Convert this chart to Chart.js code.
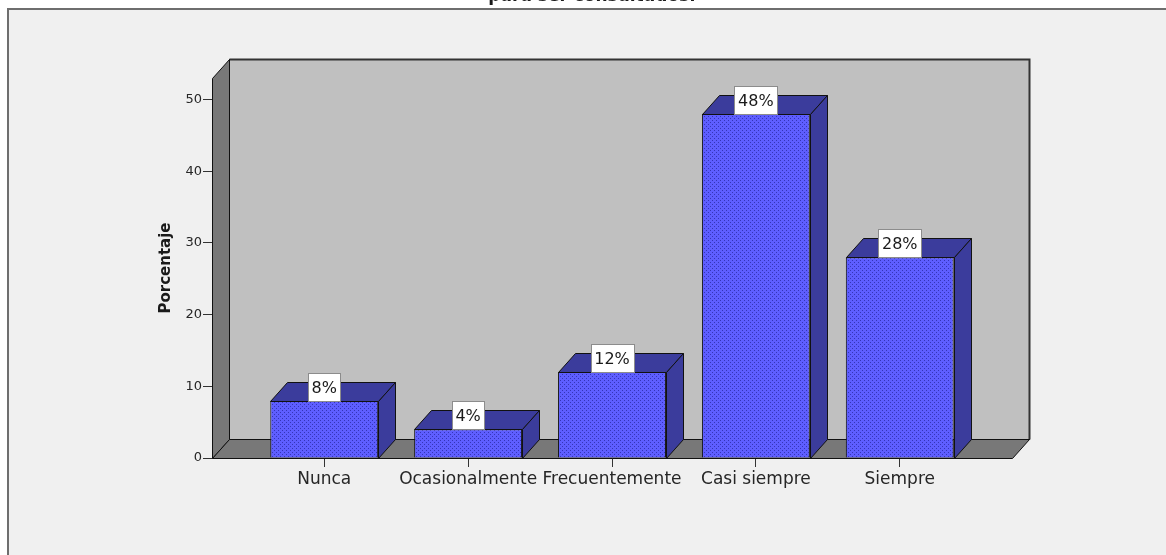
<!DOCTYPE html>
<html lang="es">
<head>
<meta charset="utf-8">
<title>Porcentaje</title>
<script src="https://cdn.jsdelivr.net/npm/chart.js@4.4.1/dist/chart.umd.min.js"></script>
<style>
  html, body { margin: 0; padding: 0; background: #fff; }
  canvas { display: block; }
</style>
</head>
<body>
<canvas id="grafico" width="1166" height="555"></canvas>
<script>
const categorias = ['Nunca', 'Ocasionalmente', 'Frecuentemente', 'Casi siempre', 'Siempre'];
const porcentajes = [8, 4, 12, 48, 28];
const ticksY = [0, 10, 20, 30, 40, 50];
const tituloGrafico = 'para ser consultados.';
const tituloEjeY = 'Porcentaje';

// desplazamiento del plano trasero de la caja 3D
const PROF_X = 17;
const PROF_Y = -19;
const FUENTE = '"DejaVu Sans", Verdana, sans-serif';

// textura punteada de la cara frontal de las barras
function crearTrama() {
    const c = document.createElement('canvas');
    c.width = 4;
    c.height = 4;
    const g = c.getContext('2d');
    g.fillStyle = '#5e5eff';
    g.fillRect(0, 0, 4, 4);
    g.fillStyle = '#3434b8';
    g.fillRect(0, 0, 1, 1);
    g.fillRect(2, 2, 1, 1);
    return g.createPattern(c, 'repeat');
}

function poligono(ctx, puntos, relleno) {
    ctx.beginPath();
    puntos.forEach(([x, y], i) => i ? ctx.lineTo(x, y) : ctx.moveTo(x, y));
    ctx.closePath();
    ctx.fillStyle = relleno;
    ctx.fill();
    ctx.stroke();
}

const caja3d = {
    id: 'caja3d',
    beforeDraw(chart) {
        const { ctx, width, height } = chart;
        ctx.save();
        ctx.fillStyle = '#ffffff';
        ctx.fillRect(0, 0, width, height);
        ctx.fillStyle = '#f0f0f0';
        ctx.fillRect(8, 9, width - 8, height - 9);
        ctx.fillStyle = '#6e6e6e';
        ctx.fillRect(7, 8, 2, height);
        ctx.fillRect(7, 8, width, 2);
        ctx.fillStyle = '#1a1a1a';
        ctx.font = 'bold 17px ' + FUENTE;
        ctx.textAlign = 'center';
        ctx.textBaseline = 'alphabetic';
        ctx.fillText(tituloGrafico, 592, 1);
        ctx.restore();
    },
    beforeDatasetsDraw(chart) {
        const { ctx, chartArea: a } = chart;
        const L = Math.round(a.left) + 0.5, R = Math.round(a.right) + 0.5;
        const T = Math.round(a.top) + 0.5, B = Math.round(a.bottom) + 0.5;
        ctx.save();
        ctx.lineWidth = 1;
        ctx.strokeStyle = '#111111';
        // pared del fondo
        poligono(ctx, [[L + PROF_X, T + PROF_Y], [R + PROF_X, T + PROF_Y], [R + PROF_X, B + PROF_Y], [L + PROF_X, B + PROF_Y]], '#c0c0c0');
        ctx.lineWidth = 2;
        ctx.strokeStyle = '#333333';
        ctx.beginPath();
        ctx.moveTo(L + PROF_X, T + PROF_Y);
        ctx.lineTo(R + PROF_X, T + PROF_Y);
        ctx.lineTo(R + PROF_X, B + PROF_Y);
        ctx.stroke();
        ctx.lineWidth = 1;
        ctx.strokeStyle = '#111111';
        // pared izquierda y suelo
        poligono(ctx, [[L, T], [L + PROF_X, T + PROF_Y], [L + PROF_X, B + PROF_Y], [L, B]], '#787878');
        poligono(ctx, [[L, B], [L + PROF_X, B + PROF_Y], [R + PROF_X, B + PROF_Y], [R, B]], '#787878');
        ctx.restore();
    },
    afterDatasetsDraw(chart) {
        const ctx = chart.ctx;
        ctx.save();
        ctx.lineWidth = 1;
        ctx.strokeStyle = '#111111';
        chart.getDatasetMeta(0).data.forEach(barra => {
            const { x, y, base, width } = barra.getProps(['x', 'y', 'base', 'width'], true);
            const izq = Math.round(x - width / 2) + 0.5, der = Math.round(x + width / 2) + 0.5;
            const arr = Math.round(y) + 0.5, abj = Math.round(base) + 0.5;
            // cara superior y cara lateral
            poligono(ctx, [[izq, arr], [izq + PROF_X, arr + PROF_Y], [der + PROF_X, arr + PROF_Y], [der, arr]], '#3b3c9c');
            poligono(ctx, [[der, arr], [der + PROF_X, arr + PROF_Y], [der + PROF_X, abj + PROF_Y], [der, abj]], '#3b3c9c');
        });
        ctx.restore();
    },
    afterDraw(chart) {
        const ctx = chart.ctx;
        ctx.save();
        ctx.font = '16px ' + FUENTE;
        ctx.textAlign = 'center';
        ctx.textBaseline = 'middle';
        chart.getDatasetMeta(0).data.forEach((barra, i) => {
            const texto = porcentajes[i] + '%';
            const ancho = Math.round(ctx.measureText(texto).width) + 7;
            const alto = 28;
            const x0 = Math.round(barra.x - ancho / 2) + 0.5;
            const y0 = Math.round(barra.y) - alto + 0.5;
            ctx.fillStyle = '#ffffff';
            ctx.fillRect(x0, y0, ancho, alto);
            ctx.strokeStyle = '#8c8c8c';
            ctx.strokeRect(x0, y0, ancho, alto);
            ctx.fillStyle = '#1a1a1a';
            ctx.fillText(texto, barra.x, y0 + alto / 2 + 1);
        });
        ctx.restore();
    }
};

const margenX = 0.28;

new Chart(document.getElementById('grafico'), {
    type: 'bar',
    data: {
        datasets: [{
            data: porcentajes.map((v, i) => ({ x: i, y: v })),
            backgroundColor: crearTrama(),
            borderColor: '#111111',
            borderWidth: 1,
            barPercentage: 0.75,
            categoryPercentage: 1
        }]
    },
    options: {
        responsive: false,
        animation: false,
        layout: { padding: { left: 153, top: 78, right: 154, bottom: 0 } },
        plugins: {
            legend: { display: false },
            tooltip: { enabled: false }
        },
        scales: {
            x: {
                type: 'linear',
                offset: false,
                min: -0.5 - margenX,
                max: categorias.length - 0.5 + margenX,
                afterBuildTicks: s => { s.ticks = categorias.map((_, i) => ({ value: i })); },
                afterFit: s => { s.height = 97; },
                border: { display: false },
                grid: { offset: false, drawOnChartArea: false, drawTicks: true, tickLength: 9, color: '#333333' },
                ticks: {
                    autoSkip: false,
                    maxRotation: 0,
                    padding: 2,
                    color: '#262626',
                    font: { family: FUENTE, size: 17 },
                    callback: v => categorias[v] ?? ''
                }
            },
            y: {
                min: 0,
                max: 53,
                afterBuildTicks: s => { s.ticks = ticksY.map(v => ({ value: v })); },
                afterFit: s => { s.width = 59; },
                border: { display: false },
                grid: { drawOnChartArea: false, drawTicks: true, tickLength: 9, color: '#333333' },
                ticks: {
                    padding: 1,
                    color: '#262626',
                    font: { family: FUENTE, size: 13 }
                },
                title: {
                    display: true,
                    text: tituloEjeY,
                    color: '#1a1a1a',
                    font: { family: FUENTE, size: 15, weight: 'bold' },
                    padding: { top: 4, bottom: 0 }
                }
            }
        }
    },
    plugins: [caja3d]
});
</script>
</body>
</html>
